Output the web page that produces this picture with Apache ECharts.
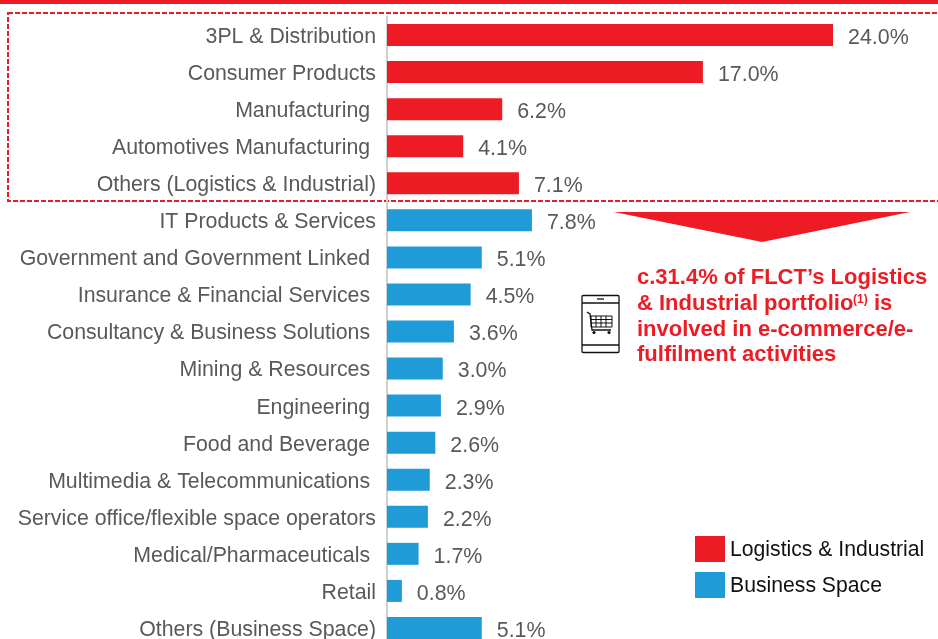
<!DOCTYPE html>
<html><head><meta charset="utf-8">
<style>html,body{margin:0;padding:0;background:#fff;overflow:hidden}#c{width:938px;height:639px}</style>
<script src="https://cdn.jsdelivr.net/npm/echarts@6/dist/echarts.min.js"></script>
</head><body><div id="c"></div>
<script>
const categories = ["3PL & Distribution","Consumer Products","Manufacturing ","Automotives Manufacturing ","Others (Logistics & Industrial)","IT Products & Services","Government and Government Linked ","Insurance & Financial Services ","Consultancy & Business Solutions ","Mining & Resources ","Engineering ","Food and Beverage ","Multimedia & Telecommunications ","Service office/flexible space operators","Medical/Pharmaceuticals ","Retail","Others (Business Space)"];
const logistics = [24.0,17.0,6.2,4.1,7.1,null,null,null,null,null,null,null,null,null,null,null,null];
const business = [null,null,null,null,null,7.8,5.1,4.5,3.6,3.0,2.9,2.6,2.3,2.2,1.7,0.8,5.1];
const seriesNames = ["Logistics & Industrial","Business Space"];
const noteLines = ["c.31.4% of FLCT’s Logistics","& Industrial portfolio","involved in e-commerce/e-","fulfilment activities"];
const RED="#ED1C24", BLUE="#1F9BD7", FONT='"Liberation Sans",Arial,sans-serif';
const lab={show:true,position:'right',distance:15,offset:[0,3],color:'#595959',fontFamily:FONT,fontSize:21.4,
  formatter:p=>p.value==null?'':p.value.toFixed(1)+'%'};
const note=(t,y)=>({type:'text',x:637,y:y,style:{text:t,fill:RED,font:'bold 22px '+FONT,textVerticalAlign:'middle'}});
const ink={stroke:'#111',fill:'none',lineWidth:1.3};
const chart=echarts.init(document.getElementById('c'),null,{renderer:'canvas'});
chart.setOption({
  animation:false,
  backgroundColor:'#fff',
  grid:{left:387,top:16.5,width:446,height:630,containLabel:false,outerBoundsMode:'none'},
  xAxis:{type:'value',min:0,max:24,show:false},
  yAxis:{type:'category',inverse:true,data:categories,
    axisLine:{show:true,lineStyle:{color:'#D0D0D0',width:2}},axisTick:{show:false},
    axisLabel:{interval:0,margin:11,formatter:v=>'{a|'+v+'}',
      rich:{a:{color:'#595959',fontFamily:FONT,fontSize:21.3,padding:[4,0,0,0]}}}},
  legend:{left:695,top:536,padding:0,orient:'vertical',itemWidth:30,itemHeight:26,itemGap:10,icon:'rect',
    formatter:n=>'{a|'+n+'}',
    textStyle:{rich:{a:{color:'#111',fontFamily:FONT,fontSize:21.2,padding:[3,0,0,0]}}},itemStyle:{borderWidth:0},data:seriesNames},
  series:[
    {name:seriesNames[0],type:'bar',data:logistics,barWidth:22,barGap:'-100%',itemStyle:{color:RED},label:lab},
    {name:seriesNames[1],type:'bar',data:business,barWidth:22,barGap:'-100%',itemStyle:{color:BLUE},label:lab}
  ],
  graphic:[
    {type:'rect',shape:{x:0,y:0,width:938,height:4},style:{fill:RED}},
    {type:'rect',shape:{x:8,y:13,width:940,height:188},style:{fill:'none',stroke:RED,lineWidth:2,lineDash:[5,2]}},
    {type:'polygon',shape:{points:[[614,212],[910,212],[762,242]]},style:{fill:RED}},
    note(noteLines[0],278),note(noteLines[1],304),note(noteLines[2],330),note(noteLines[3],355),
    {type:'text',x:853,y:300,style:{text:'(1)',fill:RED,font:'bold 12px '+FONT,textVerticalAlign:'middle'}},
    {type:'text',x:874,y:304,style:{text:'is',fill:RED,font:'bold 22px '+FONT,textVerticalAlign:'middle'}},
    {type:'rect',shape:{x:582,y:295.5,width:37,height:57,r:1},style:ink},
    {type:'line',shape:{x1:582,y1:303,x2:619,y2:303},style:ink},
    {type:'line',shape:{x1:582,y1:345,x2:619,y2:345},style:ink},
    {type:'line',shape:{x1:597,y1:299,x2:604,y2:299},style:ink},
    {type:'polyline',shape:{points:[[587,312],[590,314],[592,330],[611,330]]},style:ink},
    {type:'rect',shape:{x:591,y:316,width:21,height:11},style:{stroke:'#111',fill:'none',lineWidth:1}},
    {type:'line',shape:{x1:591,y1:319.5,x2:612,y2:319.5},style:{stroke:'#111',lineWidth:1}},
    {type:'line',shape:{x1:591,y1:323,x2:612,y2:323},style:{stroke:'#111',lineWidth:1}},
    {type:'line',shape:{x1:596,y1:316,x2:596,y2:327},style:{stroke:'#111',lineWidth:1}},
    {type:'line',shape:{x1:601,y1:316,x2:601,y2:327},style:{stroke:'#111',lineWidth:1}},
    {type:'line',shape:{x1:606,y1:316,x2:606,y2:327},style:{stroke:'#111',lineWidth:1}},
    {type:'circle',shape:{cx:594,cy:332.5,r:1.6},style:{fill:'#111'}},
    {type:'circle',shape:{cx:609,cy:332.5,r:1.6},style:{fill:'#111'}}
  ]
});
</script></body></html>
